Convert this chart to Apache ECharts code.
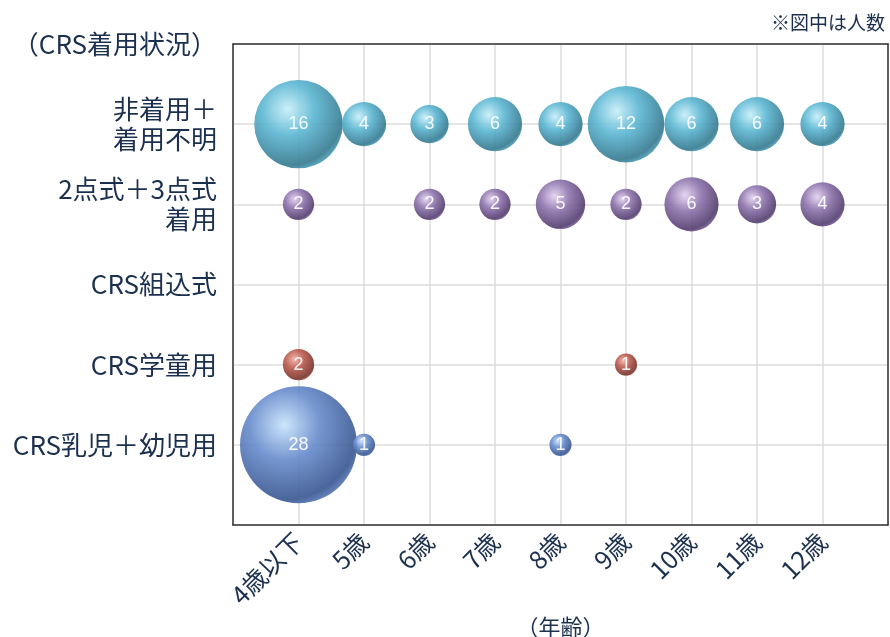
<!DOCTYPE html>
<html><head><meta charset="utf-8">
<script src="https://cdn.jsdelivr.net/npm/echarts@6/dist/echarts.min.js"></script>
<style>html,body{margin:0;padding:0;background:#fff}#c{width:890px;height:637px}</style>
</head><body><div id="c"></div>
<script>
const ageLabels = ['4歳以下','5歳','6歳','7歳','8歳','9歳','10歳','11歳','12歳'];
const statusLabels = ['CRS乳児＋幼児用','CRS学童用','CRS組込式','2点式＋3点式\n着用','非着用＋\n着用不明'];
const yAxisTitle = '（CRS着用状況）';
const xAxisTitle = '（年齢）';
const note = '※図中は人数';
// counts per age, per status
const infantToddler = [28,1,0,0,1,0,0,0,0];
const schoolChild   = [2,0,0,0,0,1,0,0,0];
const builtIn       = [0,0,0,0,0,0,0,0,0];
const belt23        = [2,0,2,2,5,2,6,3,4];
const noneUnknown   = [16,4,3,6,4,12,6,6,4];

const seriesDefs = [
  {vals: infantToddler, y:1, c:['#c9e3fb','#6b8ecd','#3d5a92']},
  {vals: schoolChild,   y:2, c:['#f0b3a8','#bd5d52','#7a3a33']},
  {vals: builtIn,       y:3, c:['#ddd','#999','#666']},
  {vals: belt23,        y:4, c:['#e3d3f0','#9077ae','#574272']},
  {vals: noneUnknown,   y:5, c:['#c8eef9','#5fb8d3','#3a7c92']}
];
const K = 22.1;
const font = "'Noto Sans CJK JP','Noto Sans',sans-serif";
const txt = '#1b2f4e';
const series = seriesDefs.map(d => ({
  type:'scatter', z:3,
  data: d.vals.map((v,i)=> v>0 ? [i+1, d.y, v] : null).filter(Boolean),
  symbolSize: p => K*Math.sqrt(p[2]),
  itemStyle:{
    opacity:0.93,
    color:{type:'radial',x:0.38,y:0.33,r:0.75,colorStops:[
      {offset:0,color:d.c[0]},{offset:0.4,color:d.c[1]},{offset:0.85,color:d.c[2]},{offset:1,color:d.c[1]}]}
  },
  label:{show:true,position:'inside',formatter:p=>p.value[2],color:'#fff',fontSize:18,fontFamily:"'Liberation Sans',Arial,sans-serif"}
}));
const frameLine = {show:true,onZero:false,lineStyle:{color:'#333',width:1.5}};
const chart = echarts.init(document.getElementById('c'));
chart.setOption({
  animation:false,
  textStyle:{fontFamily:font},
  graphic:[{type:'text',right:5,top:13,style:{text:note,fontSize:19,fill:txt,fontFamily:font}}],
  grid:{left:233,right:2,top:44,bottom:112,containLabel:false,outerBoundsMode:'none'},
  xAxis:[{type:'value',min:0,max:10,interval:1,position:'bottom',
    axisLine:frameLine,axisTick:{show:false},
    splitLine:{show:true,lineStyle:{color:'#dcdcdc',width:1.5}},
    axisLabel:{rotate:45,margin:12,fontSize:25,color:txt,fontFamily:font,showMinLabel:true,showMaxLabel:true,
      formatter:v=> (v>=1&&v<=9)? ageLabels[v-1] : ''},
    name:xAxisTitle,nameLocation:'middle',nameGap:86,nameTextStyle:{fontSize:22,color:txt,fontFamily:font}
  },{type:'value',min:0,max:10,position:'top',axisLine:frameLine,axisTick:{show:false},axisLabel:{show:false},splitLine:{show:false}}],
  yAxis:[{type:'value',min:0,max:6,interval:1,position:'left',
    axisLine:frameLine,axisTick:{show:false},
    splitLine:{show:true,lineStyle:{color:'#dcdcdc',width:1.5}},
    axisLabel:{margin:16,fontSize:26,lineHeight:30,color:txt,fontFamily:font,align:'right',showMinLabel:true,showMaxLabel:true,
      formatter:v=> (v>=1&&v<=5)? statusLabels[v-1] : (v===6? yAxisTitle : '')}
  },{type:'value',min:0,max:6,position:'right',axisLine:frameLine,axisTick:{show:false},axisLabel:{show:false},splitLine:{show:false}}],
  series
});
</script></body></html>
